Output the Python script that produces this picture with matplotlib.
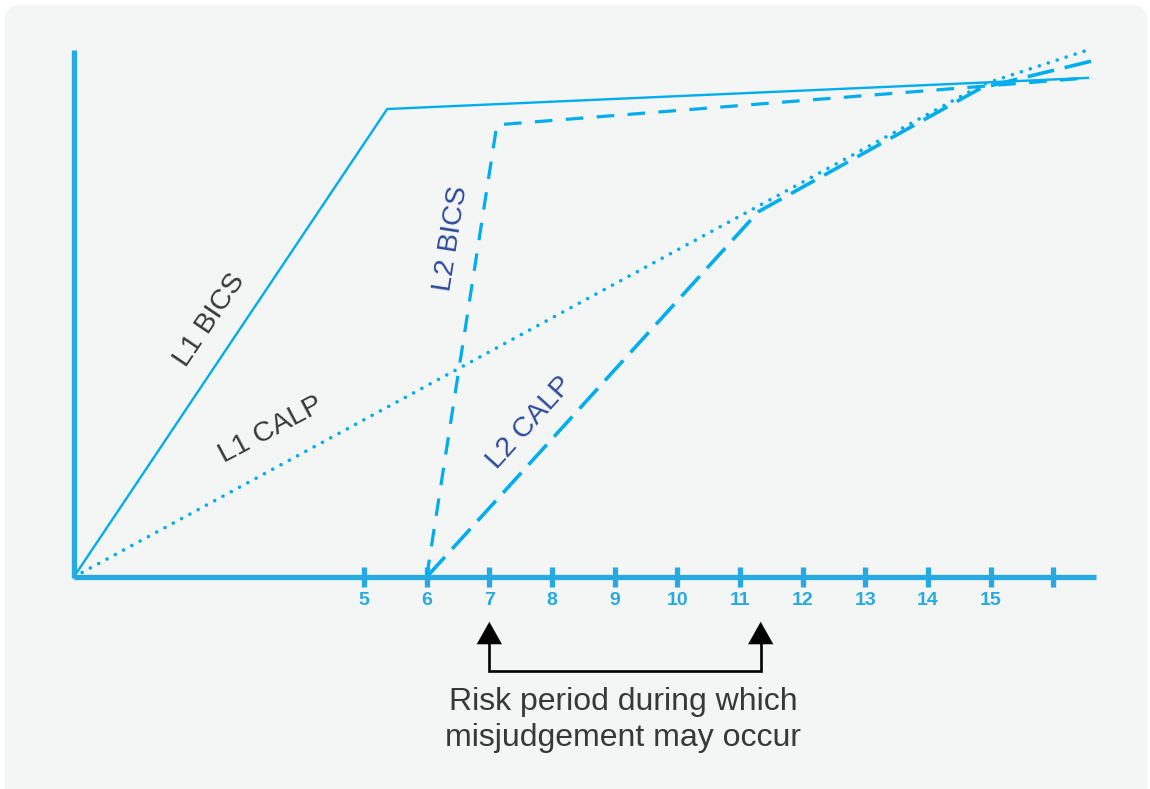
import matplotlib.pyplot as plt
import matplotlib.patches as mpatches

plt.rcParams['font.family'] = ['Liberation Sans', 'DejaVu Sans']

# x axis ticks (months), last tick unlabeled
tick_pos = [5, 6, 7, 8, 9, 10, 11, 12, 13, 14, 15, 16]
tick_labels = ["5", "6", "7", "8", "9", "10", "11", "12", "13", "14", "15", ""]

# curves (arbitrary proficiency units 0-100)
l1_bics_x = [0.37, 5.37, 16.55]
l1_bics_y = [0, 88.8, 94.7]
l1_calp_x = [0.37, 14.88, 16.55]
l1_calp_y = [0, 93.5, 100.0]
l2_bics_x = [6.0, 7.12, 16.55]
l2_bics_y = [0, 85.8, 94.7]
l2_calp_x = [6.0, 11.29, 14.85, 16.68]
l2_calp_y = [0, 69.3, 92.8, 98.1]

risk_start = 7.0
risk_end = 11.33

line_c = "#00aeef"
axis_c = "#27aae1"
dark = "#383838"
navy = "#2f4b9c"

fig = plt.figure(figsize=(11.5, 7.89), dpi=100)
fig.patch.set_facecolor("white")
bg = mpatches.FancyBboxPatch((5, -30), 1142, 814, boxstyle="round,pad=0,rounding_size=16",
                             transform=None, facecolor="#f4f5f5", edgecolor="none", zorder=-10)
fig.patches.append(bg)

# axes box: left 74px, right 1096px, top 50px, bottom 577px
W, H = 1150, 789
ax = fig.add_axes([74 / W, (H - 577) / H, (1096 - 74) / W, (577 - 50) / H])
ax.set_facecolor("none")
ax.set_xlim(0.373, 16.68)
ax.set_ylim(0, 100)

for s in ["top", "right"]:
    ax.spines[s].set_visible(False)
for s in ["left", "bottom"]:
    ax.spines[s].set_color(axis_c)
    ax.spines[s].set_linewidth(3.8)
    ax.spines[s].set_capstyle("butt")

ax.set_xticks(tick_pos)
ax.set_xticklabels(tick_labels, fontsize=14, fontweight="bold", color=axis_c)
ax.tick_params(axis="x", direction="inout", length=14, width=3.8, color=axis_c, pad=4)
ax.set_yticks([])

ax.plot(l1_bics_x, l1_bics_y, color=line_c, lw=1.7, clip_on=False, solid_joinstyle="miter")
ax.plot(l1_calp_x, l1_calp_y, color=line_c, lw=2.6, clip_on=False,
        linestyle=(0, (0.01, 2.6)), dash_capstyle="round")
ax.plot(l2_bics_x, l2_bics_y, color=line_c, lw=2.3, clip_on=False,
        linestyle=(0, (5.5, 4.2)))
ax.plot(l2_calp_x, l2_calp_y, color=line_c, lw=2.6, clip_on=False,
        linestyle=(0, (7.5, 3.0)))

# line labels
ax.text(2.54, 48.8, "L1 BICS", rotation=56, color=dark, fontsize=20.5,
        ha="center", va="center", rotation_mode="anchor")
ax.text(3.52, 27.9, "L1 CALP", rotation=28, color=dark, fontsize=20.5,
        ha="center", va="center", rotation_mode="anchor")
ax.text(6.40, 64.3, "L2 BICS", rotation=81, color=navy, fontsize=20.5,
        ha="center", va="center", rotation_mode="anchor")
ax.text(7.65, 29.2, "L2 CALP", rotation=48, color=navy, fontsize=20.5,
        ha="center", va="center", rotation_mode="anchor")

# risk period bracket
ax.plot([risk_start, risk_start, risk_end, risk_end], [-12.5, -17.8, -17.8, -12.5],
        color="black", lw=1.9, clip_on=False, solid_joinstyle="miter")
for xr in [risk_start, risk_end]:
    ax.annotate("", xy=(xr, -8.5), xytext=(xr, -12.9), xycoords="data",
                arrowprops=dict(arrowstyle="-|>,head_length=1.6,head_width=0.9",
                                color="black", lw=0.1, shrinkA=0, shrinkB=0),
                annotation_clip=False)
ax.text((risk_start + risk_end) / 2 - 0.03, -27.2,
        "Risk period during which\nmisjudgement may occur",
        ha="center", va="center", fontsize=23, color=dark, linespacing=1.25)

fig.savefig("out.png", dpi=100, facecolor=fig.get_facecolor())
